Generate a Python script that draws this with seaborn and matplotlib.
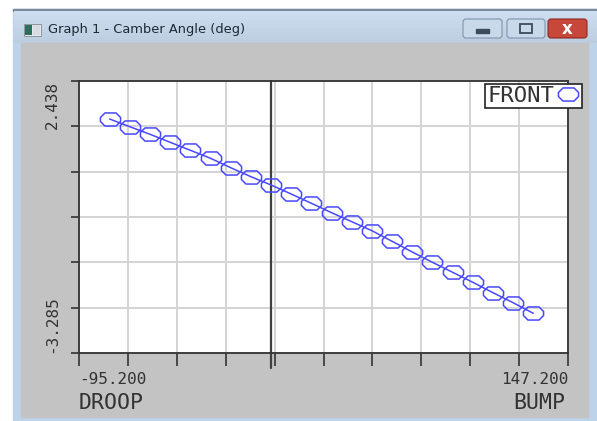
import numpy as np
import matplotlib
matplotlib.use('Agg')
import matplotlib.pyplot as plt
import seaborn as sns
from matplotlib.patches import Rectangle, FancyBboxPatch
from matplotlib.path import Path
from matplotlib.lines import Line2D

# wheel travel (mm) and camber angle (deg)
travel = [-80, -70, -60, -50, -40, -30, -20, -10, 0, 10, 20,
          30, 40, 50, 60, 70, 80, 90, 100, 110, 120, 130]
camber = [1.638, 1.476, 1.317, 1.148, 0.980, 0.812, 0.614, 0.425, 0.250, 0.060, -0.135,
          -0.333, -0.522, -0.712, -0.935, -1.160, -1.377, -1.587, -1.797, -2.016, -2.227, -2.450]
x_range = [-95.2, 147.2]
y_range = [-3.285, 2.438]
x_labels = ['-95.200', '147.200']
y_labels = ['-3.285', '2.438']
x_names = ['DROOP', 'BUMP']
series_name = 'FRONT'
window_title = 'Graph 1 - Camber Angle (deg)'

sns.set_theme(style='white')
plt.rcParams['font.family'] = ['DejaVu Sans Mono', 'DejaVu Sans']

W, H = 597, 421
fig = plt.figure(figsize=(W / 100, H / 100), dpi=100)

# window chrome drawn in pixel coordinates
bg = fig.add_axes([0, 0, 1, 1])
bg.set_xlim(0, W)
bg.set_ylim(H, 0)
bg.axis('off')
bg.add_patch(Rectangle((0, 0), W, H, color='white'))
bg.add_patch(Rectangle((13, 9), W - 13, H - 9, color='#bcd3ea'))
bg.add_patch(Rectangle((13, 9), W - 13, 1.5, color='#7a8a99'))
for i in range(12):
    c = np.array([0.80, 0.87, 0.94]) - i * 0.006
    bg.add_patch(Rectangle((14, 10.5 + i * 2.7), W - 14, 2.8, color=c, lw=0))
bg.add_patch(Rectangle((21, 43), 567, 374, color='#c3c3c3'))
# icon
bg.add_patch(Rectangle((24, 24), 17, 12, color='#e8e8e8', ec='#7d8a96', lw=0.6))
bg.add_patch(Rectangle((25, 25), 7, 10, color='#2f6e5a', lw=0))
bg.add_patch(Rectangle((33, 25), 7, 10, color='#d7dde3', lw=0))
bg.text(48, 29.5, window_title, fontsize=9.4, family='DejaVu Sans', color='#1e2a36',
        va='center', ha='left')
# caption buttons
for x0, w, fc, ec in [(463, 39, '#c8d9ea', '#7f93aa'), (507, 38, '#c8d9ea', '#7f93aa'),
                      (548, 39, '#c7473a', '#8a2a22')]:
    bg.add_patch(FancyBboxPatch((x0, 19), w, 19, boxstyle='round,pad=0,rounding_size=3',
                                fc=fc, ec=ec, lw=0.8))
bg.add_patch(Rectangle((476, 29), 13, 4, color='#3d4c5c'))
bg.add_patch(Rectangle((520, 24), 12, 9, fc='none', ec='#3d4c5c', lw=1.3))
bg.text(567.5, 28.5, 'x', fontsize=12, family='DejaVu Sans', weight='bold', color='white',
        ha='center', va='center')

# plot area
left, right, top, bottom = 79, 568, 81, 353
ax = fig.add_axes([left / W, 1 - bottom / H, (right - left) / W, (bottom - top) / H])

blue = '#4848ff'
verts = [(-10, -2), (-5.5, -6.5), (5.5, -6.5), (10, -2), (10, 2), (5.5, 6.5),
         (-5.5, 6.5), (-10, 2), (-10, -2)]
octagon = Path(verts, closed=True)

sns.lineplot(x=travel, y=camber, ax=ax, color=blue, linewidth=1.1, marker=octagon,
             markersize=14.5, markerfacecolor='none', markeredgecolor=blue,
             markeredgewidth=1.1, errorbar=None, sort=False)

ax.set_xlim(*x_range)
ax.set_ylim(*y_range)
ax.set_xticks(np.linspace(x_range[0], x_range[1], 11))
ax.set_yticks(np.linspace(y_range[0], y_range[1], 7))
ax.set_xticklabels([x_labels[0]] + [''] * 9 + [x_labels[1]])
ax.set_yticklabels([y_labels[0]] + [''] * 5 + [y_labels[1]], rotation=90)
xt = ax.get_xticklabels()
xt[0].set_ha('left')
xt[-1].set_ha('right')
yt = ax.get_yticklabels()
yt[0].set_va('bottom')
yt[-1].set_va('top')
ax.tick_params(axis='x', direction='out', length=9.5, width=1.2, color='#333333',
               pad=4, labelsize=11.5, labelcolor='#333333', bottom=True)
ax.tick_params(axis='y', direction='out', length=6, width=1.2, color='#333333',
               pad=8, labelsize=11.5, labelcolor='#333333', left=True)
ax.grid(True, color='#d4d4d4', linewidth=1.4)
ax.set_axisbelow(True)
for s in ax.spines.values():
    s.set_color('#333333')
    s.set_linewidth(1.3)
ax.set_facecolor('white')
ax.axvline(0, ymin=-0.055, ymax=1, color='#404040', linewidth=1.6, clip_on=False, zorder=1)
ax.set_xlabel('')
ax.set_ylabel('')

ax.text(0, -0.185, x_names[0], transform=ax.transAxes, ha='left', va='center',
        fontsize=15.5, color='#333333')
ax.text(0.995, -0.185, x_names[1], transform=ax.transAxes, ha='right', va='center',
        fontsize=15.5, color='#333333')

handle = Line2D([], [], linestyle='none', marker=octagon, markersize=14.5,
                markerfacecolor='none', markeredgecolor=blue, markeredgewidth=1.1)
leg = ax.legend([handle], [series_name], loc='upper right',
                bbox_to_anchor=(582 / W, 1 - 84 / H), bbox_transform=fig.transFigure,
                markerfirst=False, frameon=True, fancybox=False, fontsize=16,
                borderpad=0.1, handlelength=1.1, handletextpad=0.05, borderaxespad=0,
                labelcolor='#333333')
leg.get_frame().set_edgecolor('#222222')
leg.get_frame().set_linewidth(1.2)
leg.get_frame().set_facecolor('white')
leg.get_frame().set_alpha(1)

fig.savefig('out.png', dpi=100)
